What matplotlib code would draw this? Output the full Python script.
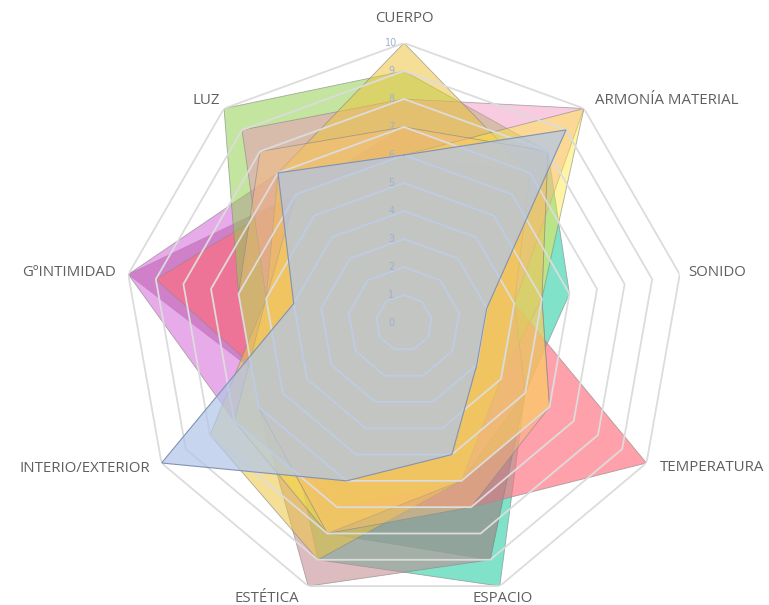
import numpy as np
import matplotlib
matplotlib.use("Agg")
import matplotlib.pyplot as plt

categories = ["CUERPO", "ARMONÍA MATERIAL", "SONIDO", "TEMPERATURA", "ESPACIO",
              "ESTÉTICA", "INTERIO/EXTERIOR", "GºINTIMIDAD", "LUZ"]
tick_labels = ["0", "1", "2", "3", "4", "5", "6", "7", "8", "9", "10"]

# values per series, in category order
maroon   = [6, 6, 3, 4, 6, 7, 5, 10, 6]
darkteal = [6, 7, 4, 5, 9, 8, 5, 5, 6]
teal     = [6, 8, 6, 5, 10, 9, 5, 5, 6]
magenta  = [6, 6, 3, 4, 6, 7, 7, 10, 7]
red      = [6, 7, 4, 10, 7, 7, 5, 9, 6]
rose     = [7, 7, 4, 5, 9, 10, 6, 6, 6]
green    = [9, 8, 5, 4, 6, 7, 6, 6, 10]
pink     = [8, 10, 4, 5, 6, 8, 6, 5, 9]
gold     = [10, 7, 4, 4, 6, 9, 8, 5, 7]
yellow   = [6, 10, 5, 6, 6, 8, 7, 5, 6]
orange   = [7, 8, 5, 6, 7, 8, 6, 6, 8]
lightblue = [6, 9, 3, 3, 5, 6, 10, 4, 7]

series = [
    (maroon, "#8E2A5E", 0.5),
    (darkteal, "#1E8070", 0.45),
    (teal, "#2BCFA6", 0.6),
    (magenta, "#D873DC", 0.6),
    (red, "#FF6F7D", 0.65),
    (rose, "#C2868D", 0.55),
    (green, "#92D050", 0.55),
    (pink, "#F08CBC", 0.45),
    (gold, "#EDC540", 0.55),
    (yellow, "#FFE83A", 0.45),
    (orange, "#F9BE78", 0.45),
]

W, H = 769, 605
fig = plt.figure(figsize=(W / 100, H / 100), dpi=100)
cx, cy, R = 404, 323, 280
ax = fig.add_axes([(cx - R) / W, (H - cy - R) / H, 2 * R / W, 2 * R / H], projection="polar")
ax.set_theta_zero_location("N")
ax.set_theta_direction(-1)
ax.set_ylim(0, 10)
ax.grid(False)
ax.set_xticks([])
ax.set_yticks([])
ax.spines["polar"].set_visible(False)
ax.patch.set_alpha(0)

n = len(categories)
theta = np.arange(n) * 2 * np.pi / n
theta_c = np.append(theta, theta[0])

def closed(v):
    return np.append(np.asarray(v, float), v[0])

for k, (vals, col, a) in enumerate(series):
    ax.fill(theta_c, closed(vals), color=col, alpha=a, zorder=2 + k * 0.01, lw=0)
    ax.plot(theta_c, closed(vals), color="#8a8a8a", lw=0.6, alpha=0.7, zorder=2 + k * 0.01 + 0.005)

# grid rings
for lvl in range(1, 11):
    ax.plot(theta_c, np.full(n + 1, lvl), color="#dcdcdc", lw=1.3, zorder=3)

# top series
ax.fill(theta_c, closed(lightblue), color="#B2C6E8", alpha=0.72, zorder=4, lw=0)
ax.plot(theta_c, closed(lightblue), color="#8093b3", lw=0.8, zorder=4.1)

for i, t in enumerate(tick_labels):
    ax.annotate(t, xy=(0, i), xytext=(-9, 0), textcoords="offset points",
                ha="center", va="center", fontsize=7, color="#9fb0cc", zorder=5)

offsets = [(0, 25), (83, 8), (37, 2), (66, -5), (3, -12), (-41, -12), (-77, -5), (-59, 2), (-18, 8)]
for c, t, (dx, dy) in zip(categories, theta, offsets):
    ax.annotate(c, xy=(t, 10), xytext=(dx * 0.72, dy * 0.72), textcoords="offset points",
                ha="center", va="center", fontsize=10.8, color="#5f5f5f",
                family=["Open Sans", "DejaVu Sans"], zorder=5, annotation_clip=False)

fig.savefig("out.png", dpi=100)
